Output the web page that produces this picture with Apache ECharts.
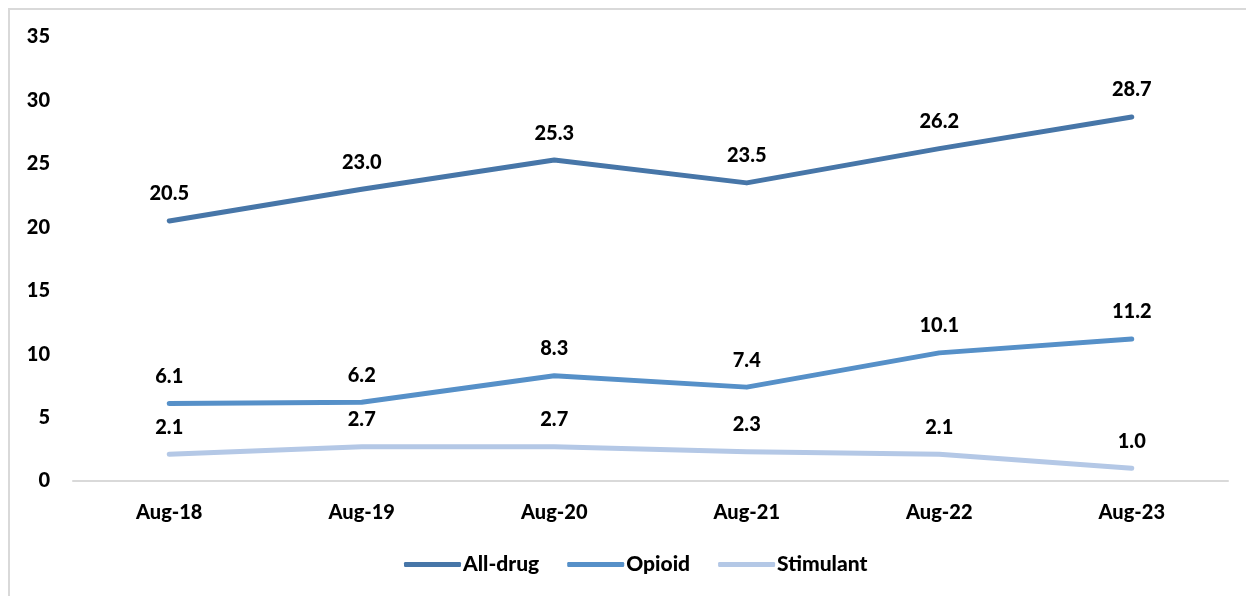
<!DOCTYPE html>
<html>
<head>
<meta charset="utf-8">
<script src="https://cdn.jsdelivr.net/npm/echarts@6/dist/echarts.min.js"></script>
<style>
html,body{margin:0;padding:0;background:#fff;}
#frame{position:absolute;left:8px;top:8px;width:1300px;height:700px;border-left:2px solid #d9d9d9;border-top:2px solid #d9d9d9;}
#chart{position:absolute;left:0;top:0;width:1246px;height:596px;}
</style>
</head>
<body>
<div id="frame"></div>
<div id="chart"></div>
<script>
var categories = ['Aug-18','Aug-19','Aug-20','Aug-21','Aug-22','Aug-23'];
var allDrug = [20.5, 23.0, 25.3, 23.5, 26.2, 28.7];
var opioid = [6.1, 6.2, 8.3, 7.4, 10.1, 11.2];
var stimulant = [2.1, 2.7, 2.7, 2.3, 2.1, 1.0];
var yTicks = [0, 5, 10, 15, 20, 25, 30, 35];

var FONT = 'Lato';
var W = 900;
var chart = echarts.init(document.getElementById('chart'), null, {renderer:'canvas'});
function mk(name, data, color){
  return {
    name: name, type: 'line', data: data, symbol: 'circle', symbolSize: 0, showSymbol: true,
    lineStyle: {color: color, width: 5, cap: 'round', join: 'round'},
    itemStyle: {color: color},
    label: {show: true, position: 'top', distance: 17, color: '#000', fontFamily: FONT, fontWeight: W, fontSize: 20,
      formatter: function(p){ return p.value.toFixed(1); }},
    labelLayout: {hideOverlap: false},
    emphasis: {disabled: true}
  };
}
chart.setOption({
  animation: false,
  grid: {left: 73, right: 18, top: 37, bottom: 115, containLabel: false},
  legend: {
    bottom: 16, left: 399, itemWidth: 57, itemHeight: 5, itemGap: 28,
    icon: 'roundRect',
    textStyle: {color: '#000', fontFamily: FONT, fontWeight: W, fontSize: 21, padding: [0,0,0,-3]},
    data: ['All-drug','Opioid','Stimulant']
  },
  xAxis: {
    type: 'category', data: categories, boundaryGap: true,
    axisLine: {lineStyle: {color: '#d9d9d9', width: 2}},
    axisTick: {show: false},
    axisLabel: {color: '#000', fontFamily: FONT, fontWeight: W, fontSize: 20, margin: 22}
  },
  yAxis: {
    type: 'value', min: 0, max: 35, interval: 5,
    axisLine: {show: false}, axisTick: {show: false}, splitLine: {show: false},
    axisLabel: {color: '#000', fontFamily: FONT, fontWeight: W, fontSize: 20, margin: 23,
      formatter: function(v){ return yTicks.indexOf(v) >= 0 ? String(v) : ''; }}
  },
  series: [mk('All-drug', allDrug, '#4776a8'), mk('Opioid', opioid, '#5690c8'), mk('Stimulant', stimulant, '#b4c8e6')]
});
</script>
</body>
</html>
